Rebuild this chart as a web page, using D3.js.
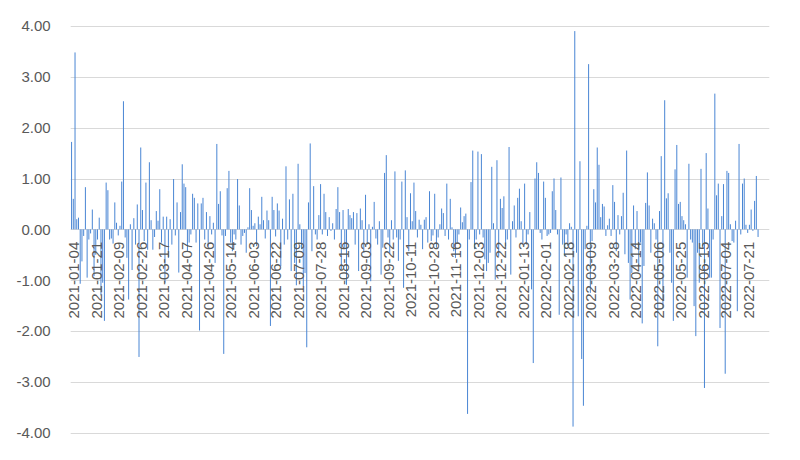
<!DOCTYPE html>
<html><head><meta charset="utf-8">
<script src="https://cdn.jsdelivr.net/npm/d3@7"></script>
<style>body{margin:0;background:#fff}svg{display:block}</style>
</head><body>
<svg id="c" width="800" height="460"></svg>
<script>
const tickLabels = ["2021-01-04","2021-01-21","2021-02-09","2021-02-26","2021-03-17","2021-04-07","2021-04-26","2021-05-14","2021-06-03","2021-06-22","2021-07-09","2021-07-28","2021-08-16","2021-09-03","2021-09-22","2021-10-11","2021-10-28","2021-11-16","2021-12-03","2021-12-22","2022-01-13","2022-02-01","2022-02-18","2022-03-09","2022-03-28","2022-04-14","2022-05-06","2022-05-25","2022-06-15","2022-07-04","2022-07-21"];
const tickStep = 13;
const slotCount = 404;
const yTicks = [4,3,2,1,0,-1,-2,-3,-4];
const values = [
1.72,0.6,3.48,0.2,0.23,-1.07,-0.63,-0.13,0.83,-0.95,-0.2,-0.08,0.39,-0.92,-0.5,-0.2,0.23,-1.3,-1.05,-1.8,
0.92,0.77,-0.2,-0.18,-0.28,0.53,0.13,-0.12,0.07,0.94,2.52,-0.16,-0.56,-1.38,0.1,-0.8,0.22,-0.3,0.49,-2.51,
1.61,0.38,-0.23,0.92,-0.4,1.32,0.18,-0.4,-0.15,0.36,0.17,0.79,-0.26,0.25,-1.05,0.25,-0.56,0.2,-0.3,0.99,
-0.12,0.53,-0.85,0.34,1.28,0.9,0.83,-0.43,-0.26,-0.1,0.7,0.62,-0.26,0.51,-1.99,0.51,0.62,-0.2,0.34,-0.34,
0.26,-0.1,0.13,-0.66,1.68,0.5,0.75,-0.12,-2.45,-0.13,0.81,1.15,-0.26,-0.43,-0.1,-0.2,0.99,0.47,-0.3,-0.13,
-0.07,-0.46,0.04,0.81,0.38,0.07,0.12,-0.33,0.25,0.1,0.64,0.18,-0.18,0.37,0.18,-1.9,0.64,0.38,-0.14,0.51,
0.37,-0.72,0.21,-0.3,1.24,-0.2,0.59,-0.82,0.7,-0.66,-1.1,1.29,0.1,-0.39,-1.12,-0.86,-2.32,0.53,1.69,-0.43,
0.85,-0.1,-0.2,0.28,0.89,-0.1,0.7,0.34,-0.13,0.24,-0.03,0.12,-0.2,0.4,0.83,0.34,-0.79,0.38,-0.36,-1.09,
0.4,0.28,0.22,0.34,-0.3,0.32,-0.82,0.41,0.18,-0.46,0.68,-0.3,0.1,-1.02,0.05,0.54,-0.18,-0.3,0.16,-0.89,
-0.36,1.11,1.46,-0.16,-0.49,0.18,-0.2,1.14,-0.16,-0.62,-0.2,0.94,-1.15,1.16,0.24,-0.43,0.71,0.16,0.92,0.36,
-0.16,0.19,0.09,-0.39,0.19,0.24,-0.26,0.75,-0.23,-0.12,0.7,-0.36,-0.16,0.1,0.41,0.32,-0.13,0.9,-0.2,0.6,
0.04,-0.43,-0.56,-0.26,-0.1,0.43,0.14,0.26,0.31,-3.63,-0.2,0.93,1.55,-0.39,-0.2,1.53,-0.1,1.48,-0.16,-0.59,
-0.82,-0.66,-0.46,1.23,0.12,-0.99,1.36,-0.53,0.6,0.42,0.65,-0.33,-0.2,1.62,-0.89,0.16,0.47,-0.16,0.62,0.8,
0.16,-0.3,0.9,-0.3,-0.1,0.34,-1.18,-2.63,1.0,1.32,1.11,-0.07,-0.2,0.94,0.62,-0.13,-0.1,-0.07,0.75,1.0,
0.38,-0.1,-1.68,1.02,-0.3,-0.53,-0.1,-0.33,0.12,0.05,-3.88,3.9,-0.46,-1.71,1.34,-2.55,-3.47,-0.39,0.07,3.25,
-1.25,-0.23,0.79,0.53,1.61,1.27,0.24,0.5,0.45,-0.13,0.08,0.21,-0.13,0.87,0.54,-0.43,0.28,-0.1,0.26,0.72,
-0.49,1.55,-0.66,-1.38,-0.86,0.47,-0.39,0.36,-0.69,-0.26,-1.85,-0.72,0.52,1.12,0.47,-0.46,0.21,0.12,-0.2,-2.3,
0.36,1.44,-1.55,2.54,0.61,0.71,-0.46,-1.05,-1.8,1.18,1.66,0.5,0.54,0.26,0.18,0.1,-0.95,1.29,-0.2,-0.26,
-1.51,-2.1,-0.46,-1.05,1.19,-0.33,-3.12,1.5,0.41,-0.95,-0.95,-0.2,2.67,0.67,0.9,-1.94,0.26,0.89,-2.84,1.15,
1.11,0.1,-0.23,-0.26,0.17,-1.61,1.68,-0.1,0.9,1.0,0.09,-0.07,0.09,0.39,-0.03,0.56,1.05,-0.15
];

const svg = d3.select("#c");
const plotLeft = 70.7, plotRight = 769.3, plotTop = 26, plotBottom = 432.7;
const x = d3.scaleBand().domain(d3.range(slotCount)).range([plotLeft, plotRight]).padding(0);
const y = d3.scaleLinear().domain([-4, 4]).range([plotBottom, plotTop]);
const font = "'Liberation Sans', Arial, sans-serif";
const textColor = "#595959";

// gridlines
svg.append("g").selectAll("line").data(yTicks).join("line")
  .attr("x1", plotLeft).attr("x2", plotRight)
  .attr("y1", d => Math.round(y(d)) + 0.5).attr("y2", d => Math.round(y(d)) + 0.5)
  .attr("stroke", "#d9d9d9").attr("stroke-width", 1);

// y axis labels
const yAxis = svg.append("g").attr("transform", `translate(${plotLeft},0)`)
  .call(d3.axisLeft(y).tickValues(yTicks).tickSize(0).tickPadding(20).tickFormat(d => d.toFixed(2)));
yAxis.select(".domain").remove();
yAxis.selectAll("text").attr("font-family", font).attr("font-size", 15).attr("fill", textColor);

// bars
const bw = 1;
svg.append("g").selectAll("rect").data(values.map((v, i) => ({i, v}))).join("rect")
  .attr("x", d => x(d.i) + x.bandwidth() / 2 - bw / 2)
  .attr("width", bw)
  .attr("y", d => y(Math.max(0, d.v)))
  .attr("height", d => Math.abs(y(d.v) - y(0)))
  .attr("fill", "#4a86d4");

// x axis labels
const tickIdx = tickLabels.map((_, k) => k * tickStep);
const xAxis = svg.append("g").attr("transform", `translate(0,${y(0)})`)
  .call(d3.axisBottom(x).tickValues(tickIdx).tickSize(0).tickFormat((d, k) => tickLabels[k]));
xAxis.select(".domain").remove();
xAxis.selectAll("text")
  .attr("transform", "rotate(-90)")
  .attr("text-anchor", "end")
  .attr("x", -12.4).attr("y", 2.3).attr("dy", "0.35em")
  .attr("font-family", font).attr("font-size", 15).attr("fill", textColor);
</script>
</body></html>
